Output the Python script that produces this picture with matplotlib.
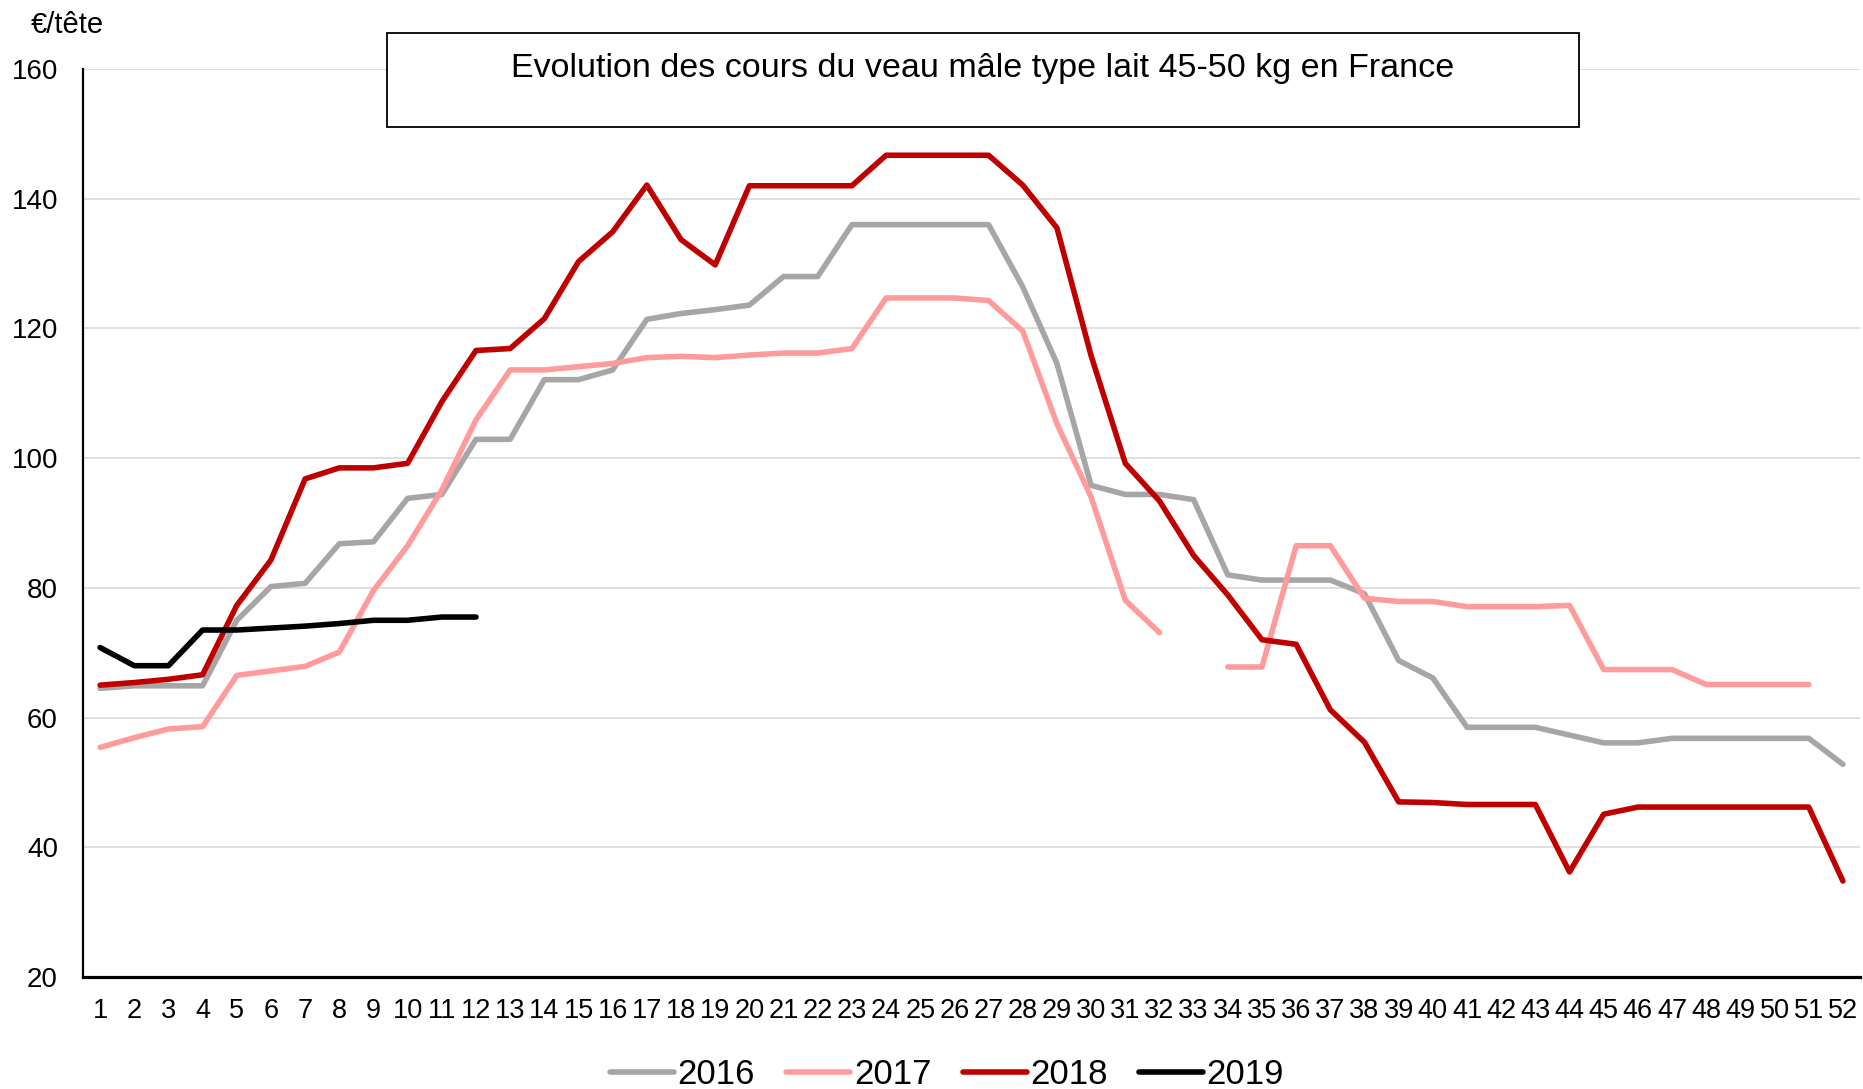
import numpy as np
import matplotlib
matplotlib.use("Agg")
import matplotlib.pyplot as plt
from matplotlib.patches import Rectangle

plt.rcParams['font.family'] = ['Liberation Sans', 'DejaVu Sans']

nan = np.nan
weeks = list(range(1, 53))
week_labels = [str(w) for w in weeks]

s2016 = [64.5, 64.9, 64.9, 64.9, 75.0, 80.2, 80.7, 86.8, 87.1, 93.8, 94.4, 102.9, 102.9,
         112.1, 112.1, 113.6, 121.4, 122.3, 122.9, 123.6, 128.0, 128.0, 136.0, 136.0, 136.0,
         136.0, 136.0, 126.4, 114.6, 95.8, 94.4, 94.4, 93.6, 82.0, 81.2, 81.2, 81.2, 79.1,
         68.8, 66.1, 58.5, 58.5, 58.5, 57.3, 56.1, 56.1, 56.8, 56.8, 56.8, 56.8, 56.8, 52.8]
s2017 = [55.4, 56.9, 58.25, 58.6, 66.5, 67.2, 67.9, 70.1, 79.6, 86.5, 95.1, 105.9, 113.6,
         113.6, 114.1, 114.6, 115.5, 115.7, 115.5, 115.9, 116.2, 116.2, 116.9, 124.7, 124.7,
         124.7, 124.3, 119.6, 105.3, 94.0, 78.1, 73.1, nan, 67.8, 67.8, 86.5, 86.5, 78.4,
         77.9, 77.9, 77.1, 77.1, 77.1, 77.3, 67.4, 67.4, 67.4, 65.1, 65.1, 65.1, 65.1, nan]
s2018 = [65.0, 65.4, 65.9, 66.6, 77.3, 84.3, 96.8, 98.5, 98.5, 99.2, 108.7, 116.6, 116.9,
         121.5, 130.3, 134.9, 142.1, 133.7, 129.8, 142.0, 142.0, 142.0, 142.0, 146.7, 146.7,
         146.7, 146.7, 142.1, 135.5, 115.8, 99.2, 93.4, 85.0, 78.9, 72.0, 71.3, 61.2, 56.2,
         47.0, 46.9, 46.6, 46.6, 46.6, 36.2, 45.1, 46.2, 46.2, 46.2, 46.2, 46.2, 46.2, 34.8]
s2019 = [70.8, 68.0, 68.0, 73.5, 73.5, 73.8, 74.1, 74.5, 75.0, 75.0, 75.5, 75.5] + [nan] * 40

series = [("2016", s2016, "#A6A6A6"),
          ("2017", s2017, "#FF9B9B"),
          ("2018", s2018, "#C00000"),
          ("2019", s2019, "#000000")]

yticks = [20, 40, 60, 80, 100, 120, 140, 160]
title = "Evolution des cours du veau mâle type lait 45-50 kg en France"
ylabel = "€/tête"

W, H = 1863, 1089
fig = plt.figure(figsize=(W / 100, H / 100), dpi=100)
ax = fig.add_axes([83 / W, 1 - 977 / H, (1860 - 83) / W, (977 - 69) / H])

for name, vals, col in series:
    ax.plot(weeks, vals, color=col, lw=4.0, label=name,
            solid_capstyle='round', solid_joinstyle='round')

ax.set_xlim(0.5, 52.5)
ax.set_ylim(20, 160)
ax.set_yticks(yticks)
ax.set_xticks(weeks)
ax.set_xticklabels(week_labels)
ax.tick_params(axis='y', length=0, labelsize=20, pad=18)
ax.tick_params(axis='x', length=0, labelsize=19.5, pad=15)
ax.yaxis.grid(True, color='#D9D9D9', lw=1.2)
ax.set_axisbelow(True)
for s in ['top', 'right']:
    ax.spines[s].set_visible(False)
ax.spines['left'].set_linewidth(1.6)
ax.spines['bottom'].set_linewidth(2.3)

fig.text(31 / W, 1 - 33 / H, ylabel, fontsize=21, ha='left', va='baseline')

rect = Rectangle((387 / W, 1 - 127 / H), (1579 - 387) / W, (127 - 33) / H,
                 transform=fig.transFigure, facecolor='white', edgecolor='black',
                 lw=1.3, zorder=10)
fig.add_artist(rect)
fig.text(983 / W, 1 - 77 / H, title, fontsize=24.5, ha='center', va='baseline', zorder=11)

leg = fig.legend(loc='center', bbox_to_anchor=(947 / W, 1 - 1075 / H), ncol=4,
                 frameon=False, fontsize=25, handlelength=1.85, handletextpad=0.1,
                 columnspacing=0.9)

fig.savefig("out.png", dpi=100)
